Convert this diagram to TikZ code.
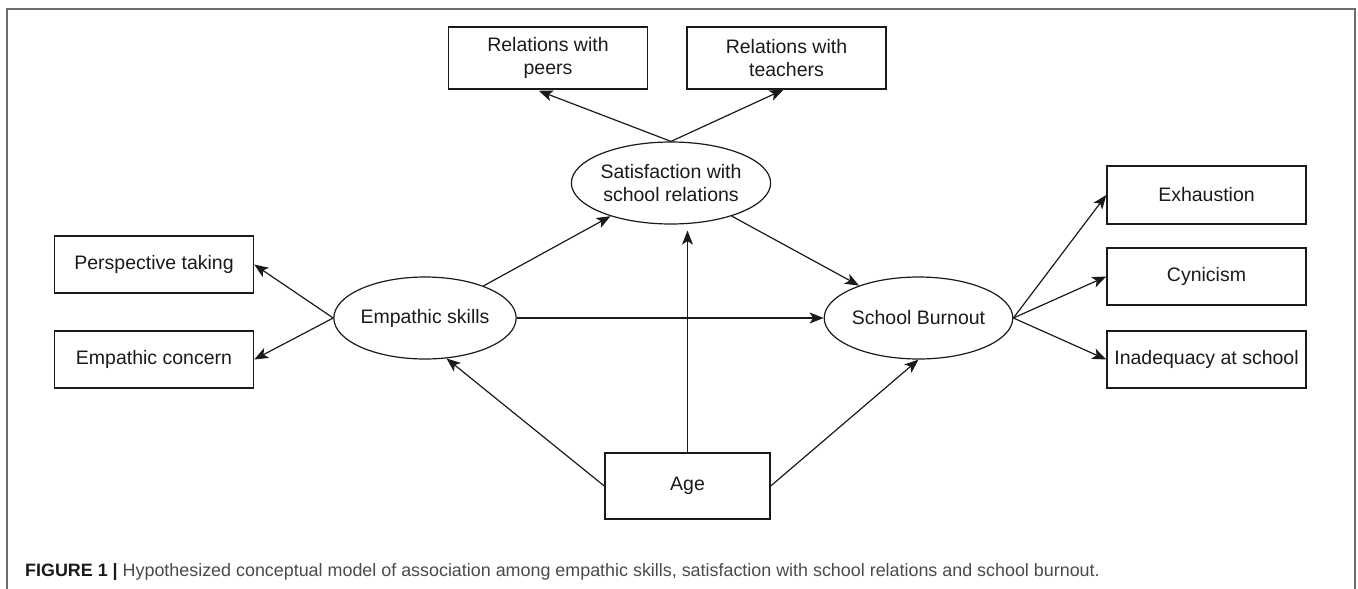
\documentclass[tikz,border=0pt]{standalone}
\usepackage{fontspec}
\setmainfont{Liberation Sans}
\usetikzlibrary{arrows.meta,shapes.geometric,calc}
\definecolor{framegray}{HTML}{6E6E6E}
\definecolor{capgray}{HTML}{4A4A4A}
\definecolor{ink}{HTML}{1A1A1A}
\begin{document}
\begin{tikzpicture}[x=1pt,y=-1pt,
  lbl/.style={font=\fontsize{19.5}{22.7}\selectfont, text=ink},
  box/.style={lbl, draw=ink, line width=1.4pt, minimum width=199pt, minimum height=57pt, inner sep=0pt, align=center},
  lat/.style={lbl, draw=ink, ellipse, line width=1.2pt, minimum width=182pt, minimum height=82pt, inner sep=0pt, align=center},
  arr/.style={draw=ink, line width=1.2pt, -{Stealth[length=14pt,width=11pt,inset=3.5pt]}}]
\useasboundingbox (0,0) rectangle (1358,589);
% frame
\draw[framegray, line width=1.8pt] (7,600) -- (7,9) -- (1355,9) -- (1355,600);
% nodes
\node[box, minimum height=62pt] (peers) at (548,58) {Relations with\\peers};
\node[box, minimum height=62pt] (teach) at (786.5,58) {Relations with\\teachers};
\node[lat] (sat) at (671,183) {Satisfaction with\\school relations};
\node[box] (persp) at (154,264.5) {Perspective taking};
\node[box] (conc) at (154,359.5) {Empathic concern};
\node[lat] (emp) at (425,318) {Empathic skills};
\node[lat, minimum width=183pt] (burn) at (918.5,318) {School Burnout};
\node[box, minimum height=58pt] (exh) at (1206.5,195) {Exhaustion};
\node[box] (cyn) at (1206.5,276.5) {Cynicism};
\node[box] (inad) at (1206.5,359.5) {Inadequacy at school};
\node[box, minimum width=165pt, minimum height=66pt] (age) at (687.5,486) {Age};
% connectors
\draw[arr, shorten >=3pt] (sat.north) -- ($(peers.south west)!0.44!(peers.south east)$);
\draw[arr] (sat.north) -- ($(teach.south west)!0.485!(teach.south east)$);
\draw[arr] (emp.west) -- (persp.east);
\draw[arr] (emp.west) -- (conc.east);
\draw[arr] (emp) -- (sat);
\draw[arr] (emp.east) -- (burn.west);
\draw[arr] (sat) -- (burn);
\draw[arr, shorten >=6pt] (age.north) -- (age.north |- sat.south);
\draw[arr] (age.west) -- (emp.-62);
\draw[arr] (age.east) -- (burn.south);
\draw[arr] (burn.east) -- (exh.west);
\draw[arr] (burn.east) -- (cyn.west);
\draw[arr] (burn.east) -- (inad.west);
% caption
\node[anchor=base west, inner sep=0pt, font=\fontsize{17.9}{20}\selectfont] (cap) at (25,576)
  {\textcolor{ink}{\textbf{FIGURE 1 |}} \textcolor{capgray}{Hypothesized conceptual model of association among empathic skills, satisfaction with school relations and school burnout.}};
\end{tikzpicture}
\end{document}
